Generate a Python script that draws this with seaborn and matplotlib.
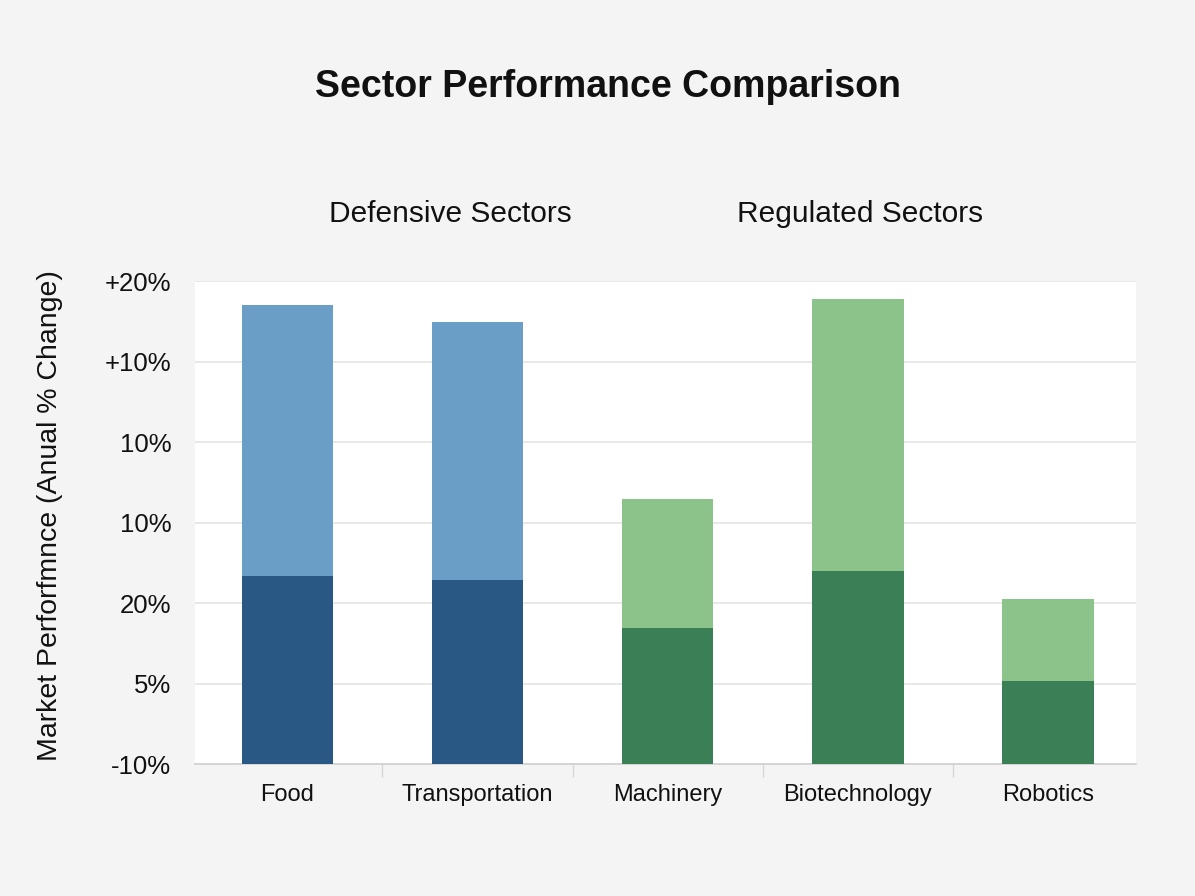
import pandas as pd
import matplotlib
matplotlib.use("Agg")
import matplotlib.pyplot as plt
import seaborn as sns

sns.set_theme(style="white")
plt.rcParams['font.family'] = ['Liberation Sans', 'DejaVu Sans']

# data (axis units: 0..60, one grid step = 10)
sectors = ['Food', 'Transportation', 'Machinery', 'Biotechnology', 'Robotics']
group = ['Defensive', 'Defensive', 'Regulated', 'Regulated', 'Regulated']
base_part = [23.4, 22.9, 16.9, 24.0, 10.3]
total = [57.0, 55.0, 33.0, 57.8, 20.5]
ytick_pos = [0, 10, 20, 30, 40, 50, 60]
ytick_labels = ['-10%', '5%', '20%', '10%', '10%', '+10%', '+20%']

light = {'Defensive': '#6a9ec6', 'Regulated': '#8cc38a'}
dark = {'Defensive': '#2a5885', 'Regulated': '#3b7f57'}

df = pd.DataFrame({'sector': sectors, 'group': group,
                   'base': base_part, 'total': total})

fig = plt.figure(figsize=(11.95, 8.96), dpi=100)
fig.patch.set_facecolor('#f4f4f4')
ax = fig.add_axes([0.163, 0.147, 0.788, 0.539])
ax.set_facecolor('white')

# light (upper) segment drawn as full total, dark base on top of it
sns.barplot(data=df, x='sector', y='total', hue='sector',
            palette=[light[g] for g in group], width=0.48,
            saturation=1, legend=False, ax=ax, zorder=2, linewidth=0)
sns.barplot(data=df, x='sector', y='base', hue='sector',
            palette=[dark[g] for g in group], width=0.48,
            saturation=1, legend=False, ax=ax, zorder=3, linewidth=0)

ax.set_ylim(0, 60)
ax.set_xlim(-0.487, 4.465)
ax.set_yticks(ytick_pos)
ax.set_yticklabels(ytick_labels, fontsize=18.5, color='#111111')
ax.yaxis.grid(True, color='#e4e4e4', linewidth=1.2, zorder=0)
ax.set_axisbelow(True)
ax.tick_params(axis='y', length=0, pad=17)
ax.set_xticks(range(len(sectors)))
ax.set_xticklabels(sectors, fontsize=17, color='#111111')
ax.tick_params(axis='x', which='major', length=0, pad=14)
ax.set_xticks([0.5, 1.5, 2.5, 3.5], minor=True)
ax.tick_params(axis='x', which='minor', bottom=True, length=9, width=1,
               color='#d6d6d6', direction='out')
ax.set_xlabel('')
ax.set_ylabel('Market Perforfmnce (Anual % Change)', fontsize=20.5, color='#111111')
ax.yaxis.set_label_coords(-0.14, 0.515)

for side in ['top', 'right', 'left']:
    ax.spines[side].set_visible(False)
ax.spines['bottom'].set_color('#d0d0d0')
ax.spines['bottom'].set_linewidth(1.2)

fig.text(0.509, 0.903, 'Sector Performance Comparison', ha='center', va='center',
         fontsize=27, fontweight='bold', color='#111111')
fig.text(0.377, 0.761, 'Defensive Sectors', ha='center', va='center', fontsize=21.5, color='#111111')
fig.text(0.720, 0.761, 'Regulated Sectors', ha='center', va='center', fontsize=21.5, color='#111111')

fig.savefig('out.png', dpi=100, facecolor=fig.get_facecolor())
